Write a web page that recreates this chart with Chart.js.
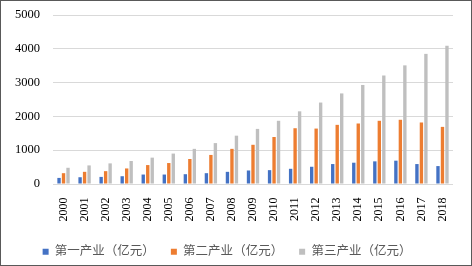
<!DOCTYPE html>
<html>
<head>
<meta charset="utf-8">
<script src="https://cdn.jsdelivr.net/npm/chart.js@4.4.0/dist/chart.umd.min.js"></script>
<style>
  html, body { margin: 0; padding: 0; background: #fff; }
  #box { width: 470px; height: 264px; border: 1px solid #595959; position: relative; }
</style>
</head>
<body>
<div id="box"><canvas id="chart" width="470" height="264"></canvas></div>
<script>
// 年份
const years = ['2000','2001','2002','2003','2004','2005','2006','2007','2008','2009',
  '2010','2011','2012','2013','2014','2015','2016','2017','2018'];

// 三次产业（亿元）
const primary = [180, 200, 210, 230, 280, 280, 290, 320, 360, 400,
  410, 450, 510, 590, 630, 670, 690, 590, 530];
const secondary = [320, 360, 380, 460, 560, 620, 740, 860, 1040, 1160,
  1390, 1650, 1640, 1750, 1790, 1870, 1900, 1820, 1690];
const tertiary = [480, 550, 610, 680, 780, 900, 1040, 1210, 1430, 1630,
  1870, 2150, 2410, 2680, 2930, 3210, 3510, 3850, 4090];

const seriesNames = ['第一产业（亿元）', '第二产业（亿元）', '第三产业（亿元）'];
const colors = ['#4472c4', '#ed7d31', '#bfbfbf'];

const fontFamily = '"Liberation Serif", "Noto Sans CJK SC", serif';

new Chart(document.getElementById('chart'), {
  type: 'bar',
  data: {
    labels: years,
    datasets: [primary, secondary, tertiary].map((d, i) => ({
      label: seriesNames[i],
      data: d,
      backgroundColor: colors[i],
      categoryPercentage: 0.64,
      barPercentage: 0.75
    }))
  },
  options: {
    responsive: false,
    animation: false,
    layout: { padding: { top: 14, right: 18, left: 0, bottom: -3 } },
    plugins: {
      tooltip: { enabled: false },
      legend: {
        position: 'bottom',
        labels: {
          boxWidth: 6, boxHeight: 6, padding: 16,
          color: '#595959',
          font: { family: fontFamily, size: 12.5 }
        }
      }
    },
    scales: {
      x: {
        grid: { display: false, drawTicks: false },
        border: { display: false },
        ticks: {
          minRotation: 90, maxRotation: 90,
          padding: 13.5,
          color: '#000',
          font: { family: fontFamily, size: 12 }
        },
        afterFit: (s) => { s.height = 45.5; }
      },
      y: {
        min: 0, max: 5000,
        ticks: {
          stepSize: 1000,
          color: '#000',
          padding: 13,
          font: { family: fontFamily, size: 12.5 },
          callback: (v) => String(v)
        },
        afterFit: (s) => { s.width = 52; s.paddingTop = 0; s.paddingBottom = 0; },
        grid: { color: '#d9d9d9', lineWidth: 1, drawTicks: false },
        border: { display: false }
      }
    }
  }
});
</script>
</body>
</html>
